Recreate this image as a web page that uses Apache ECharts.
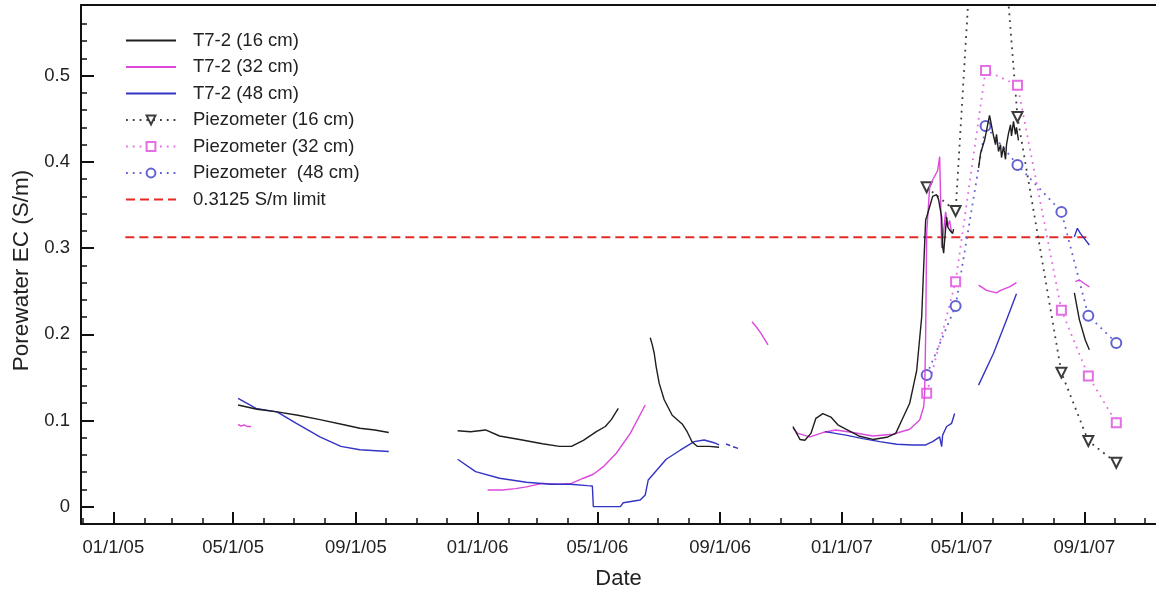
<!DOCTYPE html>
<html><head><meta charset="utf-8">
<script src="https://cdn.jsdelivr.net/npm/echarts@6/dist/echarts.min.js"></script>
<style>html,body{margin:0;padding:0;background:#fff}#c{width:1156px;height:590px}</style>
</head><body><div id="c"></div>
<script>
// ---------- DATA ----------
const t16Dates = ['2005-05-06','2005-05-25','2005-06-14','2005-07-05','2005-07-27','2005-08-20','2005-09-05','2005-09-20','2005-10-04','2005-11-01',
  '2005-12-12','2005-12-25','2006-01-09','2006-01-23','2006-02-12','2006-03-07','2006-03-24','2006-04-05','2006-04-17','2006-04-30','2006-05-09','2006-05-15','2006-05-22','2006-06-05',
  '2006-06-23','2006-06-24','2006-06-25','2006-06-27','2006-06-29','2006-07-02','2006-07-07','2006-07-15','2006-07-25','2006-07-30','2006-08-04','2006-08-09','2006-08-21','2006-08-31','2006-10-15',
  '2006-11-13','2006-11-20','2006-11-25','2006-12-01','2006-12-06','2006-12-13','2006-12-21','2006-12-28','2007-01-05','2007-01-18','2007-02-01','2007-02-15','2007-02-24','2007-03-03','2007-03-10','2007-03-15','2007-03-17','2007-03-22','2007-03-24','2007-03-26','2007-03-27','2007-03-30','2007-04-02','2007-04-06','2007-04-08','2007-04-11','2007-04-12','2007-04-13','2007-04-14','2007-04-16','2007-04-17','2007-04-19','2007-04-22','2007-04-23','2007-05-05',
  '2007-05-18','2007-05-20','2007-05-24','2007-05-29','2007-05-30','2007-06-02','2007-06-04','2007-06-05','2007-06-07','2007-06-09','2007-06-10','2007-06-12','2007-06-14','2007-06-15','2007-06-17','2007-06-19','2007-06-20','2007-06-22','2007-06-24','2007-06-25','2007-06-27','2007-07-20',
  '2007-08-22','2007-08-27','2007-09-02','2007-09-06'];
const t16Values = [0.118,0.113,0.110,0.106,0.101,0.095,0.091,0.089,0.086,null,
  0.088,0.087,0.089,0.082,0.078,0.073,0.070,0.070,0.077,0.087,0.093,0.101,0.114,null,
  0.196,0.198,0.188,0.178,0.162,0.143,0.124,0.106,0.096,0.087,0.075,0.070,0.070,0.069,null,
  0.093,0.078,0.077,0.085,0.1025,0.108,0.104,0.095,0.090,0.082,0.078,0.0805,0.085,0.1025,0.120,0.147,0.158,0.220,0.278,0.333,0.336,0.348,0.360,0.362,0.356,0.336,0.302,0.294,0.309,0.336,0.325,0.321,0.317,0.322,null,
  0.393,0.410,0.425,0.454,0.448,0.430,0.420,0.432,0.412,0.420,0.405,0.418,0.403,0.420,0.433,0.443,0.430,0.447,0.432,0.440,0.425,null,
  0.248,0.217,0.193,0.182];

const t32Dates = ['2005-05-06','2005-05-09','2005-05-12','2005-05-15','2005-05-19','2005-08-01',
  '2006-01-11','2006-01-26','2006-02-08','2006-02-19','2006-03-07','2006-03-24','2006-04-05','2006-04-17','2006-04-27','2006-05-07','2006-05-20','2006-06-03','2006-06-18','2006-07-01',
  '2006-10-03','2006-10-07','2006-10-12','2006-10-19','2006-10-25',
  '2006-11-13','2006-11-18','2006-11-30','2006-12-13','2006-12-26','2007-01-12','2007-02-01','2007-02-21','2007-03-10','2007-03-20','2007-03-24','2007-03-25','2007-03-26','2007-03-27','2007-03-30','2007-04-02','2007-04-07','2007-04-09','2007-04-10','2007-04-11','2007-04-13','2007-04-15','2007-04-17','2007-04-19','2007-04-21','2007-05-05',
  '2007-05-18','2007-05-26','2007-06-05','2007-06-09','2007-06-18','2007-06-25','2007-07-20',
  '2007-08-23','2007-08-27','2007-09-02','2007-09-06'];
const t32Values = [0.0955,0.0935,0.095,0.093,0.093,null,
  0.0194,0.0194,0.021,0.023,0.027,0.026,0.027,0.033,0.0376,0.0464,0.062,0.085,0.118,null,
  0.2146,0.209,0.201,0.1876,null,
  0.091,0.085,0.081,0.086,0.089,0.086,0.082,0.084,0.0898,0.1006,0.116,0.1316,0.201,0.317,0.371,0.379,0.390,0.406,0.356,0.300,0.320,0.342,0.325,0.332,0.318,null,
  0.257,0.251,0.248,0.251,0.255,0.260,null,
  0.261,0.263,0.258,0.255];

const t48Dates = ['2005-05-06','2005-05-24','2005-06-14','2005-07-03','2005-07-27','2005-08-17','2005-09-05','2005-10-04','2005-11-01',
  '2005-12-12','2005-12-30','2006-01-23','2006-02-19','2006-03-15','2006-04-04','2006-04-21','2006-04-26','2006-04-27','2006-05-24','2006-05-27','2006-06-13','2006-06-18','2006-06-21','2006-07-09','2006-07-23','2006-08-06','2006-08-16','2006-08-26','2006-08-31','2006-09-04',
  '2006-09-07','2006-09-11','2006-09-12','2006-09-14','2006-09-19','2006-10-20',
  '2006-12-15','2007-01-05','2007-01-22','2007-02-08','2007-02-25','2007-03-13','2007-03-26','2007-04-02','2007-04-09','2007-04-11','2007-04-12','2007-04-16','2007-04-21','2007-04-24','2007-05-05',
  '2007-05-18','2007-06-02','2007-06-15','2007-06-25','2007-07-20',
  '2007-08-22','2007-08-25','2007-08-28','2007-09-06'];
const t48Values = [0.1257,0.114,0.110,0.097,0.081,0.070,0.066,0.064,null,
  0.055,0.0406,0.033,0.0283,0.026,0.026,0.0244,0.024,0.0,0.0,0.0046,0.0078,0.0136,0.031,0.055,0.0655,0.0754,0.0774,0.0742,0.0716,null,
  0.0727,0.071,null,0.0695,0.0677,null,
  0.087,0.083,0.079,0.0754,0.0724,0.0716,0.0716,0.0754,0.081,0.0696,0.083,0.093,0.0967,0.108,null,
  0.141,0.178,0.2166,0.247,null,
  0.313,0.323,0.317,0.3036];

const piezoDates = ['2007-03-27','2007-04-25','2007-05-25','2007-06-26','2007-08-09','2007-09-05','2007-10-03'];
const p16Values = [0.3705,0.343,0.92,0.452,0.1555,0.0762,0.051];
const p32Values = [0.1316,0.261,0.506,0.489,0.228,0.1516,0.0975];
const p48Values = [0.1528,0.2328,0.4417,0.3964,0.342,0.2216,0.190];

const limitDates = ['2005-01-13','2007-09-07'];
const limitValues = [0.3125,0.3125];

const xMajorTicks = ['2005-01-01','2005-05-01','2005-09-01','2006-01-01','2006-05-01','2006-09-01','2007-01-01','2007-05-01','2007-09-01'];
const yMajorTicks = [0,0.1,0.2,0.3,0.4,0.5];
const yMinorTicks = [0.02,0.04,0.06,0.08,0.12,0.14,0.16,0.18,0.22,0.24,0.26,0.28,0.32,0.34,0.36,0.38,0.42,0.44,0.46,0.48,0.52,0.54,0.56];

// ---------- BUILD ----------
function toMs(s){const p=s.split('-').map(Number);return Date.UTC(p[0],p[1]-1,p[2]);}
function pairs(d,v){return d.map((x,i)=>[toMs(x), v[i]===null?'-':v[i]]);}
const DAY=86400000;
const xMin = Date.UTC(2005,0,1) - 32.4*DAY;
const xMax = Date.UTC(2007,8,1) + 71.8*DAY;
const xMinor = [];
for(let y=2004;y<=2007;y++){for(let m=0;m<12;m++){const t=Date.UTC(y,m,1);if(t>xMin&&t<xMax)xMinor.push(t);}}
const xMajor = xMajorTicks.map(toMs);
function fmtDate(v){const d=new Date(v);const m=d.getUTCMonth()+1;return (m<10?'0':'')+m+'/'+d.getUTCDate()+'/'+String(d.getUTCFullYear()).slice(2);}

const FONT='Liberation Sans, Arial, Helvetica, sans-serif';
const AX='#111';
const cBlack='#1e1e1e', cMag='#dd48dd', cBlue='#3434c4';
const pBlack='#3c3c3c', pMag='#e46ee4', pBlue='#6262d2';

const chart = echarts.init(document.getElementById('c'), null, {renderer:'canvas'});
chart.setOption({
  backgroundColor:'#fff',
  animation:false,
  grid:{left:81, right:0, top:5, bottom:66, containLabel:false, outerBoundsMode:'none'},
  legend:{
    orient:'vertical', left:125, top:31, padding:0, itemWidth:50, itemHeight:11, itemGap:7.5,
    selectedMode:false,
    textStyle:{fontFamily:FONT, fontSize:18.5, color:'#222', padding:[0,0,0,12]},
    data:[
      {name:'T7-2 (16 cm)', itemStyle:{opacity:0}},
      {name:'T7-2 (32 cm)', itemStyle:{opacity:0}},
      {name:'T7-2 (48 cm)', itemStyle:{opacity:0}},
      {name:'Piezometer (16 cm)'},
      {name:'Piezometer (32 cm)'},
      {name:'Piezometer  (48 cm)'},
      {name:'0.3125 S/m limit', itemStyle:{opacity:0}}
    ]
  },
  xAxis:[
    {type:'value', min:xMin, max:xMax, position:'bottom',
     name:'Date', nameLocation:'middle', nameGap:44,
     nameTextStyle:{fontFamily:FONT, fontSize:22, color:'#222'},
     axisLine:{show:true, onZero:false, lineStyle:{color:AX, width:2}},
     axisTick:{show:true, inside:true, length:12, customValues:xMajor, lineStyle:{color:AX, width:2}},
     axisLabel:{show:true, customValues:xMajor, formatter:fmtDate, margin:14, fontFamily:FONT, fontSize:18.5, color:'#222'},
     splitLine:{show:false}},
    {type:'value', min:xMin, max:xMax, position:'bottom', gridIndex:0,
     axisLine:{show:false, onZero:false},
     axisTick:{show:true, inside:true, length:6, customValues:xMinor, lineStyle:{color:AX, width:1.5}},
     axisLabel:{show:false}, splitLine:{show:false}},
    {type:'value', min:xMin, max:xMax, position:'top', gridIndex:0,
     axisLine:{show:true, onZero:false, lineStyle:{color:AX, width:2}},
     axisTick:{show:false}, axisLabel:{show:false}, splitLine:{show:false}}
  ],
  yAxis:[
    {type:'value', min:-0.0201, max:0.582, position:'left',
     name:'Porewater EC (S/m)', nameLocation:'middle', nameGap:46,
     nameTextStyle:{fontFamily:FONT, fontSize:22.5, color:'#222', padding:[0,12,0,0]},
     axisLine:{show:true, onZero:false, lineStyle:{color:AX, width:2}},
     axisTick:{show:true, inside:true, length:13, customValues:yMajorTicks, lineStyle:{color:AX, width:2}},
     axisLabel:{show:true, customValues:yMajorTicks, margin:11, fontFamily:FONT, fontSize:18.5, color:'#222',
       formatter:v=>String(Math.round(v*10)/10)},
     splitLine:{show:false}},
    {type:'value', min:-0.0201, max:0.582, position:'left', gridIndex:0,
     axisLine:{show:false, onZero:false},
     axisTick:{show:true, inside:true, length:6, customValues:yMinorTicks, lineStyle:{color:AX, width:1.5}},
     axisLabel:{show:false}, splitLine:{show:false}}
  ],
  series:[
    {name:'T7-2 (16 cm)', type:'line', data:pairs(t16Dates,t16Values), symbol:'none', connectNulls:false, z:5,
     lineStyle:{color:cBlack, width:1.4}, itemStyle:{color:cBlack}},
    {name:'T7-2 (32 cm)', type:'line', data:pairs(t32Dates,t32Values), symbol:'none', connectNulls:false, z:4,
     lineStyle:{color:cMag, width:1.4}, itemStyle:{color:cMag}},
    {name:'T7-2 (48 cm)', type:'line', data:pairs(t48Dates,t48Values), symbol:'none', connectNulls:false, z:4,
     lineStyle:{color:cBlue, width:1.4}, itemStyle:{color:cBlue}},
    {name:'Piezometer (16 cm)', type:'line', data:pairs(piezoDates,p16Values), symbol:'emptyTriangle', symbolRotate:180, symbolSize:10,
     lineStyle:{color:pBlack, width:1.8, type:[1.8,5]}, itemStyle:{color:pBlack, borderWidth:1.2}, z:3},
    {name:'Piezometer (32 cm)', type:'line', data:pairs(piezoDates,p32Values), symbol:'emptyRect', symbolSize:9,
     lineStyle:{color:pMag, width:1.8, type:[1.8,5]}, itemStyle:{color:pMag, borderWidth:1.2}, z:3},
    {name:'Piezometer  (48 cm)', type:'line', data:pairs(piezoDates,p48Values), symbol:'emptyCircle', symbolSize:10,
     lineStyle:{color:pBlue, width:1.8, type:[1.8,5]}, itemStyle:{color:pBlue, borderWidth:1.2}, z:3},
    {name:'0.3125 S/m limit', type:'line', data:pairs(limitDates,limitValues), symbol:'none', z:2,
     lineStyle:{color:'#e42b24', width:2, type:[9,5]}, itemStyle:{color:'#e42b24'}}
  ]
});
</script></body></html>
